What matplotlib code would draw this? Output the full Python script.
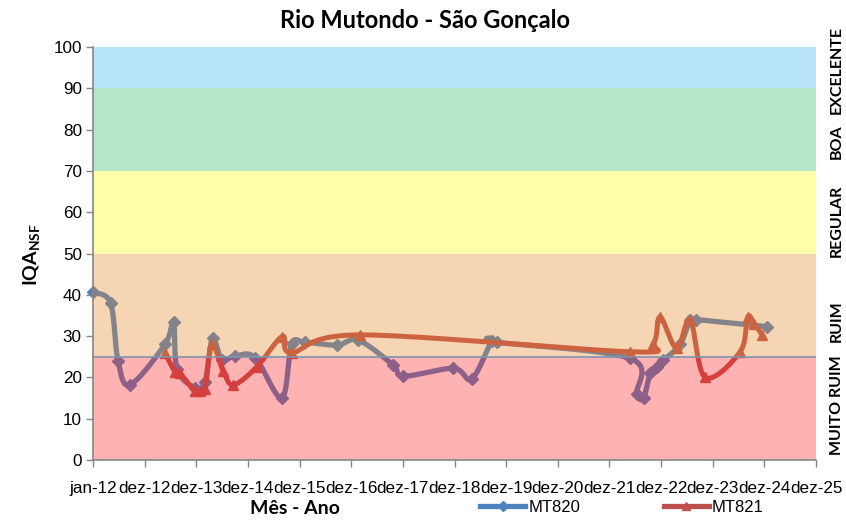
import numpy as np
import matplotlib
matplotlib.use("Agg")
import matplotlib.pyplot as plt
import matplotlib.dates as mdates
from matplotlib.lines import Line2D
import datetime as dt

# ---------------- data ----------------
mt820_dates = ["2012-01-01", "2012-05-04", "2012-06-26", "2012-09-18", "2013-05-24",
               "2013-07-23", "2013-08-17", "2013-12-22", "2014-03-03", "2014-04-25",
               "2014-06-29", "2014-10-01", "2015-02-19", "2015-08-27", "2015-11-05",
               "2016-02-07", "2016-09-18", "2017-02-18", "2017-10-23", "2018-01-02",
               "2018-12-22", "2019-05-01", "2019-09-19", "2019-10-24", "2022-05-24",
               "2022-07-11", "2022-08-27", "2022-10-13", "2022-11-29", "2023-01-15",
               "2023-05-13", "2023-07-23", "2023-09-03", "2025-01-15"]
mt820_values = [40.6, 38.0, 24.0, 18.2, 28.0,
                33.5, 22.0, 17.5, 19.0, 29.5,
                24.3, 25.2, 24.8, 15.0, 28.0,
                28.5, 27.8, 29.0, 23.0, 20.3,
                22.2, 19.6, 28.8, 28.5, 24.6,
                16.1, 15.0, 21.0, 22.6, 24.2,
                28.0, 34.0, 34.0, 32.3]

mt821_dates = ["2013-05-24", "2013-08-06", "2013-09-07", "2013-12-22", "2014-01-26",
               "2014-03-03", "2014-04-19", "2014-07-10", "2014-09-19", "2015-03-03",
               "2015-08-31", "2015-11-05", "2017-03-02", "2022-05-25", "2022-11-05",
               "2022-12-22", "2023-04-19", "2023-07-23", "2023-11-06", "2024-07-10",
               "2024-09-01", "2024-10-17", "2024-12-13"]
mt821_values = [25.8, 21.2, 21.0, 16.6, 16.6,
                17.2, 28.0, 21.5, 18.2, 22.5,
                29.9, 26.0, 30.3, 26.2, 28.2,
                34.6, 27.0, 34.0, 20.0, 26.2,
                34.6, 33.0, 30.3]

tick_labels = ["jan-12", "dez-12", "dez-13", "dez-14", "dez-15", "dez-16", "dez-17",
               "dez-18", "dez-19", "dez-20", "dez-21", "dez-22", "dez-23", "dez-24", "dez-25"]

band_edges = [0, 25, 50, 70, 90, 100]
band_names = ["MUITO RUIM", "RUIM", "REGULAR", "BOA", "EXCELENTE"]

# ---------------- style ----------------
TICKF = ["Liberation Sans", "DejaVu Sans"]
BOLD = ["Lato", "Open Sans", "DejaVu Sans"]
plt.rcParams["mathtext.fontset"] = "custom"
plt.rcParams["mathtext.bf"] = "Lato:bold"
plt.rcParams["mathtext.rm"] = "Lato:bold"

band_colors = ["#FF2323", "#E58729", "#FFFF0C", "#29B862", "#31B2E8"]
band_alpha = 0.35
c820 = "#4F81BD"
c821 = "#C0504D"


def smooth(xs, ys, n=24):
    """Catmull-Rom smoothing (like Excel smoothed lines)."""
    pts = np.column_stack([xs, ys]).astype(float)
    if len(pts) < 3:
        return pts[:, 0], pts[:, 1]
    p = np.vstack([pts[0], pts, pts[-1]])
    out = []
    t = np.linspace(0, 1, n, endpoint=False)[:, None]
    for i in range(1, len(p) - 2):
        p0, p1, p2, p3 = p[i - 1], p[i], p[i + 1], p[i + 2]
        c1 = p1 + (p2 - p0) / 6.0
        c2 = p2 - (p3 - p1) / 6.0
        seg = ((1 - t) ** 3) * p1 + 3 * ((1 - t) ** 2) * t * c1 + 3 * (1 - t) * t ** 2 * c2 + t ** 3 * p2
        out.append(seg)
    out.append(pts[-1][None, :])
    out = np.vstack(out)
    return out[:, 0], out[:, 1]


fig = plt.figure(figsize=(8.46, 5.2), dpi=100)
W, H = 846, 520
ax = fig.add_axes([93 / W, 1 - 460 / H, (816 - 93) / W, (460 - 47) / H])

start = dt.date(2012, 1, 1)
x0 = mdates.date2num(start)
ticks = [x0 + 365 * k for k in range(len(tick_labels))]

x820 = mdates.datestr2num(mt820_dates)
x821 = mdates.datestr2num(mt821_dates)

sx, sy = smooth(x820, mt820_values)
ax.plot(sx, sy, color=c820, lw=3.8, zorder=1, solid_capstyle="round")
ax.plot(x820, mt820_values, ls="none", marker="D", ms=6, color=c820, zorder=1.1, clip_on=False)
sx, sy = smooth(x821, mt821_values)
ax.plot(sx, sy, color=c821, lw=3.6, zorder=1.2, solid_capstyle="round")
ax.plot(x821, mt821_values, ls="none", marker="^", ms=7, color=c821, zorder=1.3, clip_on=False)

for i in range(len(band_names)):
    ax.axhspan(band_edges[i], band_edges[i + 1], color=band_colors[i], alpha=band_alpha, lw=0, zorder=2)
ax.axhline(25, color="#7F93B0", lw=1.2, zorder=2.5)

ax.set_xlim(ticks[0], ticks[-1])
ax.set_ylim(0, 100)
ax.set_xticks(ticks)
ax.set_xticklabels(tick_labels, fontfamily=TICKF, fontsize=12.3)
ax.set_yticks(range(0, 101, 10))
ax.set_yticklabels([str(v) for v in range(0, 101, 10)], fontfamily=TICKF, fontsize=12.3)
ax.tick_params(axis="both", direction="out", length=5, width=1, color="#868686", pad=3)
ax.tick_params(axis="x", pad=10)
for s in ["top", "right"]:
    ax.spines[s].set_visible(False)
for s in ["left", "bottom"]:
    ax.spines[s].set_color("#868686")
    ax.spines[s].set_linewidth(1.2)
    ax.spines[s].set_zorder(3)

# right-hand class labels
label_pos = [13.3, 33.7, 58.0, 77.0, 94.5]
for name, yv in zip(band_names, label_pos):
    ax.text(1.0 + 21 / (816 - 93), yv, name, transform=ax.get_yaxis_transform(),
            rotation=90, ha="center", va="center", fontsize=11.5, fontweight="bold",
            fontfamily=BOLD)

fig.text(425 / W, 1 - 21 / H, "Rio Mutondo - São Gonçalo", ha="center", va="center",
         fontsize=17, fontweight="bold", fontfamily=BOLD)
fig.text(32 / W, 1 - 255 / H, r"IQA$_{\mathbf{NSF}}$", rotation=90, ha="center", va="center",
         fontsize=14, fontweight="bold", fontfamily=BOLD)
fig.text(295 / W, 1 - 508 / H, "Mês - Ano", ha="center", va="center",
         fontsize=14, fontweight="bold", fontfamily=BOLD)

handles = [Line2D([], [], color=c820, lw=3.8, marker="D", ms=5),
           Line2D([], [], color=c821, lw=3.8, marker="^", ms=6)]
fig.legend(handles, ["MT820", "MT821"], loc="center", bbox_to_anchor=(622 / W, 1 - 507 / H),
           ncol=2, frameon=False, handlelength=2.7, handletextpad=0.2, columnspacing=5.0,
           prop={"family": TICKF, "size": 12})

fig.savefig("out.png", dpi=100)
